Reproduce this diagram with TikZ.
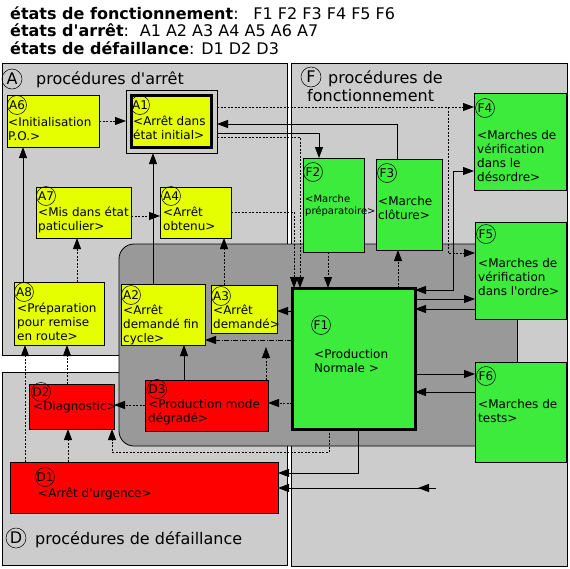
\documentclass[tikz,border=0pt]{standalone}
\usepackage{fontspec}
\setmainfont[Ligatures=TeXOff]{DejaVu Sans}
\usetikzlibrary{arrows.meta}
\definecolor{jaune}{HTML}{E6FF00}
\definecolor{vert}{HTML}{3CEB3C}
\definecolor{rouge}{HTML}{FF0000}
\definecolor{gris}{HTML}{CCCCCC}
\definecolor{grisf}{HTML}{999999}
\tikzset{
  etat/.style={draw, line width=0.8pt, anchor=north west, inner sep=0pt, outer sep=0pt},
  numero/.style={draw, circle, line width=0.5pt, inner sep=0pt, minimum size=19pt, font=\fontsize{12}{14}\selectfont},
  grandnum/.style={draw, circle, line width=0.5pt, inner sep=0pt, minimum size=20pt, font=\fontsize{16}{18}\selectfont},
  texte/.style={anchor=north west, inner sep=0pt, align=left, font=\fontsize{12}{14}\selectfont},
  titre/.style={anchor=base west, inner sep=0pt, font=\fontsize{16}{18}\selectfont},
  fleche/.style={-{Triangle[length=11pt,width=8pt]}, line width=0.8pt},
  pointille/.style={dash pattern=on 2pt off 1.5pt},
  mixte/.style={dash pattern=on 5pt off 1.5pt on 1pt off 1.5pt}
}
\begin{document}
\begin{tikzpicture}[x=1pt,y=-1pt]
\useasboundingbox (0,0) rectangle (570,568);
\fill[white] (0,0) rectangle (570,568);

% en-tete
\node[titre] (ligne1) at (10,19) {\textbf{états de fonctionnement}: \hspace{8pt}F1 F2 F3 F4 F5 F6};
\node[titre] (ligne2) at (10,36.5) {\textbf{états d'arrêt}: \hspace{4pt}A1 A2 A3 A4 A5 A6 A7};
\node[titre] (ligne3) at (10,54) {\textbf{états de défaillance}: D1 D2 D3};

% zones
\draw[fill=gris, line width=0.8pt] (2,63) rectangle (287,355);
\draw[fill=gris, line width=0.8pt] (2,372) rectangle (287,565);
\draw[fill=gris, line width=0.8pt] (291,63) rectangle (567,566);
\draw[fill=grisf, line width=0.8pt, rounded corners=15pt] (517,244) -- (119,244) -- (119,446) -- (517,446);
\draw[line width=0.8pt] (517,244) -- (517,446);

\node[grandnum] (Ac) at (12,79) {A};
\node[titre] (At) at (36,84) {procédures d'arrêt};
\node[grandnum] (Fc) at (311,77) {F};
\node[titre] (Ft1) at (328,83) {procédures de};
\node[titre] (Ft2) at (307,101.5) {fonctionnement};
\node[grandnum] (Dc) at (16,538) {D};
\node[titre] (Dt) at (35,544) {procédures de défaillance};

% etats d'arret
\node[etat, fill=jaune, minimum width=92, minimum height=52] (A6) at (7,95) {};
\node[numero] (A6c) at (17,105) {A6};
\node[texte] (A6t) at (8,116.2) {\strut<Initialisation\\P.O.>};

\node[etat, minimum width=91, minimum height=63] (A1) at (126,90) {};
\node[etat, fill=jaune, line width=3.5pt, minimum width=80, minimum height=52] (A1i) at (131.5,95.5) {};
\node[numero] (A1c) at (140,105) {A1};
\node[texte] (A1t) at (133,115.2) {\strut<Arrêt dans\\état initial>};

\node[etat, fill=jaune, minimum width=95, minimum height=51] (A7) at (36,187) {};
\node[numero] (A7c) at (46,196) {A7};
\node[texte] (A7t) at (38,206.2) {\strut<Mis dans état\\paticulier>};

\node[etat, fill=jaune, minimum width=71, minimum height=51] (A4) at (160,187) {};
\node[numero] (A4c) at (171,196) {A4};
\node[texte] (A4t) at (163,206.2) {\strut<Arrêt\\obtenu>};

\node[etat, fill=jaune, minimum width=90, minimum height=63] (A8) at (14,282) {};
\node[numero] (A8c) at (24,292) {A8};
\node[texte] (A8t) at (17,302.2) {\strut<Préparation\\pour remise\\en route>};

\node[etat, fill=jaune, minimum width=84, minimum height=61] (A2) at (121,284) {};
\node[numero] (A2c) at (131,295) {A2};
\node[texte] (A2t) at (123,304.2) {\strut<Arrêt\\demandé fin\\cycle>};

\node[etat, fill=jaune, minimum width=66, minimum height=48] (A3) at (211,285) {};
\node[numero] (A3c) at (221,296) {A3};
\node[texte] (A3t) at (213,304.2) {\strut<Arrêt\\demandé>};

% etats de defaillance
\node[etat, fill=rouge, minimum width=85, minimum height=45] (D2) at (29,384) {};
\node[numero] (D2c) at (41,392) {D2};
\node[texte] (D2t) at (33,400.2) {\strut<Diagnostic>};

\node[etat, fill=rouge, minimum width=123, minimum height=51] (D3) at (145,380) {};
\node[numero] (D3c) at (157,389) {D3};
\node[texte] (D3t) at (148,398.2) {\strut<Production mode\\dégradé>};

\node[etat, fill=rouge, minimum width=268, minimum height=51] (D1) at (10,462) {};
\node[numero] (D1c) at (45,477) {D1};
\node[texte] (D1t) at (38,487.2) {\strut<Arrêt d'urgence>};

% etats de fonctionnement
\node[etat, fill=vert, line width=3pt, minimum width=123, minimum height=141] (F1) at (292,288) {};
\node[numero] (F1c) at (321,325) {F1};
\node[texte] (F1t) at (314,348.2) {\strut<Production\\Normale >};

\node[etat, fill=vert, minimum width=61, minimum height=94] (F2) at (303,158) {};
\node[numero] (F2c) at (313,172) {F2};
\node[texte, font=\fontsize{10}{11}\selectfont] (F2t) at (305,194.3) {\strut<Marche\\préparatoire>};

\node[etat, fill=vert, minimum width=66, minimum height=91] (F3) at (376,159) {};
\node[numero] (F3c) at (387,173) {F3};
\node[texte] (F3t) at (378,195.2) {\strut<Marche\\clôture>};

\node[etat, fill=vert, minimum width=92, minimum height=97] (F4) at (474,93) {};
\node[numero] (F4c) at (485,108) {F4};
\node[texte] (F4t) at (477,129.2) {\strut<Marches de\\vérification\\dans le\\désordre>};

\node[etat, fill=vert, minimum width=91, minimum height=97] (F5) at (475,222) {};
\node[numero] (F5c) at (486,234) {F5};
\node[texte] (F5t) at (478,257.2) {\strut<Marches de\\vérification\\dans l'ordre>};

\node[etat, fill=vert, minimum width=91, minimum height=100] (F6) at (475,362) {};
\node[numero] (F6c) at (486,376) {F6};
\node[texte] (F6t) at (478,398.2) {\strut<Marches de\\tests>};

% liaisons
\draw[fleche,pointille] (A6.east |- 0,121) -- (A1.west |- 0,121);
\draw[fleche] (A8.north -| 23,0) -- (A6.south -| 23,0);
\draw[fleche,pointille] (A8.north -| 77,0) -- (A7.south -| 77,0);
\draw[fleche,pointille] (A7.east |- 0,216) -- (A4.west |- 0,216);
\draw[fleche] (A2.north -| 153,0) -- (A1.south -| 153,0);
\draw[fleche,pointille] (A3.north -| 224,0) -- (A4.south -| 224,0);
\draw[fleche] (D3.north -| 184,0) -- (A2.south -| 184,0);
\coordinate (versA3) at (266,347);
\draw[fleche,pointille] (D3.north -| versA3) -- (versA3);
\draw[fleche,pointille] (D2.north -| 67,0) -- (A8.south -| 67,0);
\draw[fleche,pointille] (D1.north -| 25,0) -- (A8.south -| 25,0);
\draw[fleche,pointille] (D1.north -| 68,0) -- (D2.south -| 68,0);
\draw[fleche,pointille] (F1.south -| 329,0) |- (112,452) -- (D2.south -| 112,0);
\draw[fleche] (F1.south -| 358,0) |- (D1.east |- 0,473);
\coordinate (urgence) at (436,488);
\draw[fleche] (urgence) -- ++(-18,0);
\draw[fleche] (urgence) -- (D1.east |- urgence);
\draw[fleche,pointille] (D3.west |- 0,405) -- (D2.east |- 0,405);
\draw[fleche,pointille] (F1.west |- 0,403) -- (D3.east |- 0,403);
\draw[fleche,mixte] (F1.west |- 0,340) -- (A2.east |- 0,340);
\draw[fleche] (F1.west |- 0,311) -- (A3.east |- 0,311);
\draw[fleche,pointille] (F1.north -| 398,0) -- (F3.south -| 398,0);
\draw[fleche,pointille] (F2.south -| 328,0) -- (F1.north -| 328,0);
\draw[fleche,pointille] (A1.east |- 0,107) -- (F4.west |- 0,107);
\coordinate (bif) at (448,107);
\draw[fleche,pointille] (bif) |- (F5.west |- 0,253);
\draw[fleche] (F3.north -| 397,0) |- (A1.east |- 0,124);
\draw[fleche] (A1.east |- 0,133) -| (F2.north -| 319,0);
\draw[fleche,pointille] (A1.east |- 0,137) -| (F1.north -| 300,0);
\draw[fleche,pointille] (A4.east |- 0,212) -| (F1.north -| 294,0);
\draw[{Triangle[length=11pt,width=8pt]}-{Triangle[length=11pt,width=8pt]}, line width=0.8pt] (F1.east |- 0,290) -| (453,171) -- (F4.west |- 0,171);
\draw[fleche] (F1.east |- 0,299) -- (F5.west |- 0,299);
\draw[fleche] (F5.west |- 0,309) -- (F1.east |- 0,309);
\draw[fleche] (F1.east |- 0,374) -- (F6.west |- 0,374);
\draw[fleche] (F6.west |- 0,392) -- (F1.east |- 0,392);
\end{tikzpicture}
\end{document}
